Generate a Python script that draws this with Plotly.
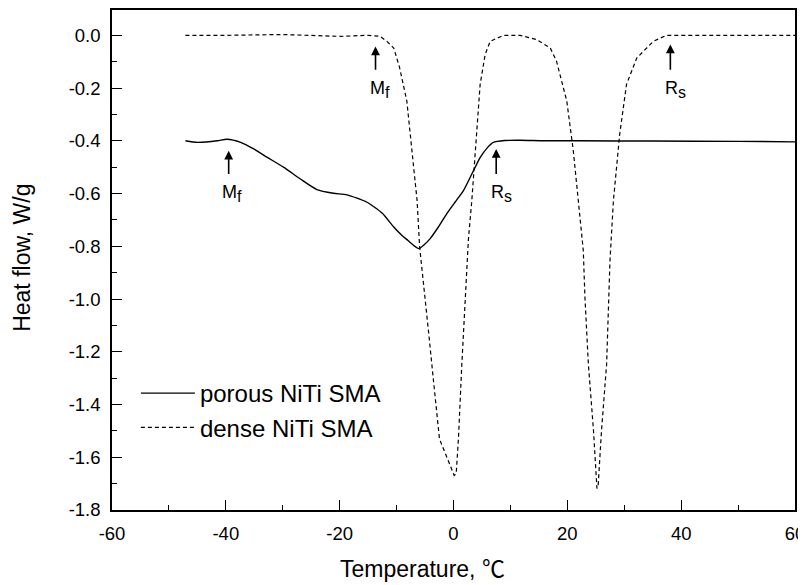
import plotly.graph_objects as go

# porous NiTi SMA (solid)
porous_x = [-47.1, -45.0, -41.5, -39.8, -37.4, -35.1, -32.7, -29.8, -26.9, -24.0, -21.1, -18.7,
            -15.2, -12.5, -10.5, -9.0, -8.0, -6.8, -6.1, -5.2, -4.1, -2.6, -1.2, 0.3, 1.75,
            3.2, 4.7, 6.0, 7.0, 9.0, 11.7, 16.0, 22.2, 35.0, 50.0, 60.0]
porous_y = [-0.400, -0.406, -0.400, -0.394, -0.406, -0.431, -0.463, -0.501, -0.545, -0.585,
            -0.599, -0.605, -0.633, -0.675, -0.727, -0.760, -0.778, -0.800, -0.809, -0.795,
            -0.771, -0.725, -0.677, -0.632, -0.589, -0.527, -0.463, -0.425, -0.406, -0.399,
            -0.398, -0.400, -0.400, -0.401, -0.402, -0.404]

# dense NiTi SMA (dashed)
dense_x = [-47.1, -40.0, -30.0, -25.0, -20.0, -15.0, -12.9, -11.7, -10.5, -9.5, -8.2, -7.3,
           -6.4, -5.96, -5.26, -4.39, -3.51, -2.63, -2.46, -1.17, 0.12, 0.47, 0.88, 1.46, 2.05,
           2.63, 3.22, 3.80, 4.68, 5.56, 6.43, 8.77, 11.7, 14.6, 17.0, 18.1, 19.9, 21.05, 22.2,
           22.8, 23.1, 23.7, 24.6, 25.2, 25.4, 26.0, 26.9, 27.5, 28.1, 29.2, 30.4, 32.2, 35.1,
           37.4, 50.0, 60.0]
dense_y = [0.000, 0.000, 0.003, 0.000, -0.004, 0.000, -0.004, -0.023, -0.048, -0.12, -0.249,
           -0.438, -0.626, -0.800, -0.935, -1.123, -1.311, -1.500, -1.531, -1.600, -1.669,
           -1.663, -1.525, -1.249, -0.998, -0.770, -0.626, -0.438, -0.186, -0.073, -0.023,
           0.000, 0.000, -0.016, -0.048, -0.098, -0.249, -0.438, -0.689, -0.815, -0.997,
           -1.248, -1.500, -1.718, -1.713, -1.500, -1.248, -0.850, -0.626, -0.375, -0.186,
           -0.086, -0.023, 0.000, 0.000, 0.000]

# transition-point markers
marker_main = ["M", "M", "R", "R"]
marker_sub = ["f", "f", "s", "s"]
marker_x = [-39.5, -13.7, 7.5, 38.1]
marker_head = [-0.438, -0.042, -0.431, -0.035]
marker_tail = [-0.532, -0.136, -0.532, -0.136]
marker_label_x = [-38.9, -13.0, 8.4, 39.0]
marker_label_y = [-0.55, -0.153, -0.55, -0.153]

x_ticks = [-60, -40, -20, 0, 20, 40, 60]
x_minor = [-50, -30, -10, 10, 30, 50]
y_ticks = [-1.8, -1.6, -1.4, -1.2, -1.0, -0.8, -0.6, -0.4, -0.2, 0.0]
y_minor = [-1.7, -1.5, -1.3, -1.1, -0.9, -0.7, -0.5, -0.3, -0.1]

FONT = "Liberation Sans, Arial, DejaVu Sans, sans-serif"

fig = go.Figure()
fig.add_trace(go.Scatter(x=porous_x, y=porous_y, mode="lines", name="porous NiTi SMA",
                         line=dict(color="black", width=1.4, shape="spline", smoothing=0.6)))
fig.add_trace(go.Scatter(x=dense_x, y=dense_y, mode="lines", name="dense NiTi SMA",
                         line=dict(color="black", width=1.2, dash="4px,3px")))

for m, s, x, h, t, lx, ly in zip(marker_main, marker_sub, marker_x, marker_head, marker_tail,
                                 marker_label_x, marker_label_y):
    fig.add_annotation(x=x, y=h, ax=x, ay=t, axref="x", ayref="y", text="",
                       showarrow=True, arrowhead=2, arrowsize=1.1, arrowwidth=1.6,
                       arrowcolor="black")
    fig.add_annotation(x=lx, y=ly, text=f"{m}<sub><span style='font-size:16px'>{s}</span></sub>",
                       showarrow=False, yanchor="top",
                       font=dict(family=FONT, size=18, color="black"))

# axis titles
fig.add_annotation(x=0.454, xref="paper", y=-0.1135, yref="paper", yanchor="middle",
                   text="Temperature, <span style='font-family:Noto Sans CJK SC'>℃</span>",
                   showarrow=False, font=dict(family=FONT, size=23, color="black"))
fig.add_annotation(x=-0.132, xref="paper", y=0.504, yref="paper", xanchor="center",
                   yanchor="middle", textangle=-90, text="Heat flow, W/g", showarrow=False,
                   font=dict(family=FONT, size=23, color="black"))

# the page body adds an 8px margin, so the figure is sized to fit the 806x585 window
fig.update_layout(
    width=798, height=577,
    margin=dict(l=104, r=11, t=0, b=75),
    paper_bgcolor="white", plot_bgcolor="white",
    font=dict(family=FONT, size=18, color="black"),
    showlegend=True,
    legend=dict(x=0.035, y=0.278, xanchor="left", yanchor="top",
                bgcolor="rgba(0,0,0,0)", font=dict(size=24), tracegroupgap=0,
                itemwidth=54),
)
fig.update_xaxes(range=[-60, 60], tickmode="array", tickvals=x_ticks,
                 ticktext=[str(v) for v in x_ticks],
                 ticks="inside", ticklen=10, tickwidth=1.3, tickcolor="black",
                 minor=dict(tickvals=x_minor, ticks="inside",
                            ticklen=5, tickwidth=1.2, tickcolor="black"),
                 showline=True, linecolor="black", linewidth=1.5, mirror=True,
                 showgrid=False, zeroline=False, tickfont=dict(size=18.5),
                 ticklabelstandoff=6)
fig.update_yaxes(range=[-1.8, 0.096], tickmode="array", tickvals=y_ticks,
                 ticktext=[f"{v:.1f}" for v in y_ticks],
                 ticks="inside", ticklen=10, tickwidth=1.3, tickcolor="black",
                 minor=dict(tickvals=y_minor, ticks="inside",
                            ticklen=5, tickwidth=1.2, tickcolor="black"),
                 showline=True, linecolor="black", linewidth=1.5, mirror=True,
                 showgrid=False, zeroline=False, tickfont=dict(size=18.5),
                 ticklabelstandoff=6)

fig.write_html("out.html")
